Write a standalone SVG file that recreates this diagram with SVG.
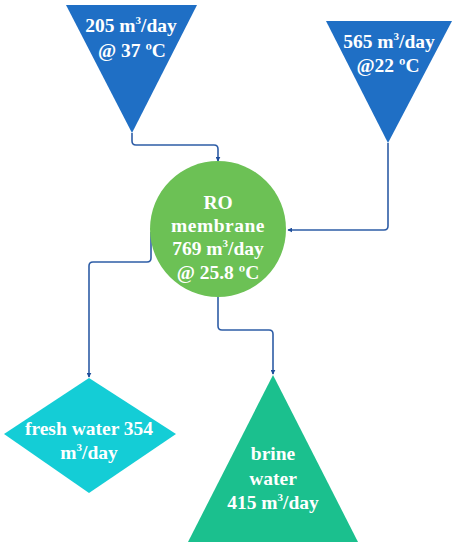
<svg xmlns="http://www.w3.org/2000/svg" width="456" height="548" viewBox="0 0 456 548">
<defs>
<marker id="arr" viewBox="0 0 8 8" refX="7" refY="4" markerWidth="5" markerHeight="5" orient="auto" markerUnits="userSpaceOnUse">
<path d="M0,0 L8,4 L0,8 Z" fill="#1F4E9A"/>
</marker>
</defs>
<style>
.t{font-family:"Liberation Serif","Times New Roman",serif;font-weight:bold;font-size:19.5px;fill:#ffffff;text-anchor:middle}
.c{fill:none;stroke:#2E5DA6;stroke-width:1.6;stroke-linejoin:round;marker-end:url(#arr)}
</style>
<rect width="456" height="548" fill="#ffffff"/>
<g id="connectors">
<path class="c" d="M132,133 V141 Q132,145 136,145 H214 Q218,145 218,149 V161"/>
<path class="c" d="M388,143 V226 Q388,230 384,230 H288"/>
<path class="c" d="M151,232 V258 Q151,262 147,262 H93 Q89,262 89,266 V377"/>
<path class="c" d="M218,297 V326 Q218,330 222,330 H269 Q273,330 273,334 V374"/>
</g>
<g id="feed1">
<polygon points="66,5 197,5 132,133" fill="#1F6FC5"/>
<text class="t" x="131" y="32">205 m<tspan font-size="11" dy="-8">3</tspan><tspan dy="8">/day</tspan></text>
<text class="t" x="132" y="57">@ 37 ºC</text>
</g>
<g id="feed2">
<polygon points="326,21 452,21 388,143" fill="#1F6FC5"/>
<text class="t" x="389" y="48">565 m<tspan font-size="11" dy="-8">3</tspan><tspan dy="8">/day</tspan></text>
<text class="t" x="388" y="72">@22 ºC</text>
</g>
<g id="ro">
<circle cx="218" cy="229" r="68" fill="#6CC155"/>
<text class="t" x="218" y="209">RO</text>
<text class="t" x="218" y="232" letter-spacing="0.5">membrane</text>
<text class="t" x="218" y="255">769 m<tspan font-size="11" dy="-8">3</tspan><tspan dy="8">/day</tspan></text>
<text class="t" x="218" y="279">@ 25.8 ºC</text>
</g>
<g id="fresh">
<polygon points="89,378 176,434 89,493 4,434" fill="#14CDD6"/>
<text class="t" x="89" y="435">fresh water 354</text>
<text class="t" x="89" y="459">m<tspan font-size="11" dy="-8">3</tspan><tspan dy="8">/day</tspan></text>
</g>
<g id="brine">
<polygon points="273,375 358,542 188,542" fill="#1BC08E"/>
<text class="t" x="273" y="460">brine</text>
<text class="t" x="273" y="485">water</text>
<text class="t" x="273" y="509">415 m<tspan font-size="11" dy="-8">3</tspan><tspan dy="8">/day</tspan></text>
</g>
</svg>
